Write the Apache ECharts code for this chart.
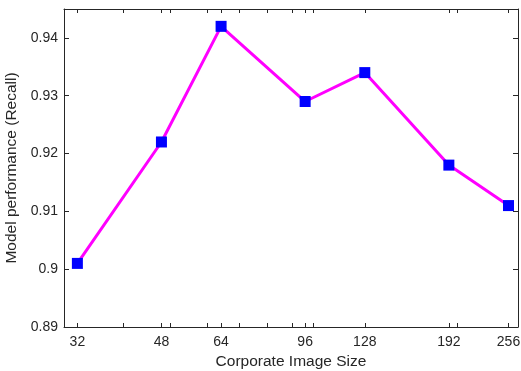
<!DOCTYPE html>
<html>
<head>
<meta charset="utf-8">
<script src="https://cdn.jsdelivr.net/npm/echarts@6/dist/echarts.min.js"></script>
<style>
  html, body { margin: 0; padding: 0; background: #fff; }
  #main { width: 521px; height: 371px; }
</style>
</head>
<body>
<div id="main"></div>
<script>
// image sizes on the x axis (log scale)
const sizes = [32, 48, 64, 96, 128, 192, 256];
const recall = [0.901, 0.922, 0.942, 0.929, 0.934, 0.918, 0.911];
const minorTicks = [40, 50, 60, 70, 80, 90, 100, 200];
const yTicks = [0.89, 0.9, 0.91, 0.92, 0.93, 0.94];

const axisColor = '#262626';
const font = 'Liberation Sans, Arial, sans-serif';

const chart = echarts.init(document.getElementById('main'));

const fmtY = v => String(+(+v).toFixed(3));

const option = {
  animation: false,
  grid: { left: 64, top: 9, right: 3, bottom: 44, containLabel: false, outerBoundsMode: 'none' },
  xAxis: [
    {
      type: 'log',
      logBase: 2,
      min: 30,
      max: 268,
      name: 'Corporate Image Size',
      nameLocation: 'middle',
      nameGap: 22,
      nameTextStyle: { color: axisColor, fontSize: 15.5, fontFamily: font },
      axisLine: { lineStyle: { color: axisColor, width: 1 } },
      axisTick: {
        inside: true, length: 4,
        customValues: sizes.concat(minorTicks),
        lineStyle: { color: axisColor }
      },
      axisLabel: {
        customValues: sizes,
        color: axisColor, fontSize: 14, fontFamily: font, margin: 8,
        formatter: v => String(Math.round(v))
      },
      splitLine: { show: false },
      minorTick: { show: false }
    },
    {
      type: 'log',
      logBase: 2,
      min: 30,
      max: 268,
      position: 'top',
      axisLine: { lineStyle: { color: axisColor, width: 1 } },
      axisTick: {
        inside: true, length: 4,
        customValues: sizes.concat(minorTicks),
        lineStyle: { color: axisColor }
      },
      axisLabel: { show: false },
      splitLine: { show: false }
    }
  ],
  yAxis: [
    {
      type: 'value',
      min: 0.89,
      max: 0.945,
      interval: 0.01,
      name: 'Model performance (Recall)',
      nameLocation: 'middle',
      nameGap: 40,
      nameTextStyle: { color: axisColor, fontSize: 15.5, fontFamily: font },
      axisLine: { show: true, lineStyle: { color: axisColor, width: 1 } },
      axisTick: { show: true, inside: true, length: 5, customValues: yTicks, lineStyle: { color: axisColor } },
      axisLabel: {
        customValues: yTicks,
        color: axisColor, fontSize: 14, fontFamily: font, margin: 6,
        formatter: fmtY
      },
      splitLine: { show: false }
    },
    {
      type: 'value',
      min: 0.89,
      max: 0.945,
      interval: 0.01,
      position: 'right',
      axisLine: { show: true, lineStyle: { color: axisColor, width: 1 } },
      axisTick: { show: true, inside: true, length: 5, customValues: yTicks, lineStyle: { color: axisColor } },
      axisLabel: { show: false },
      splitLine: { show: false }
    }
  ],
  series: [
    {
      type: 'line',
      data: sizes.map((s, i) => [s, recall[i]]),
      lineStyle: { color: '#ff00ff', width: 3 },
      itemStyle: { color: '#0000ff' },
      symbol: 'rect',
      symbolSize: 11,
      showSymbol: true
    }
  ]
};

chart.setOption(option);
</script>
</body>
</html>
